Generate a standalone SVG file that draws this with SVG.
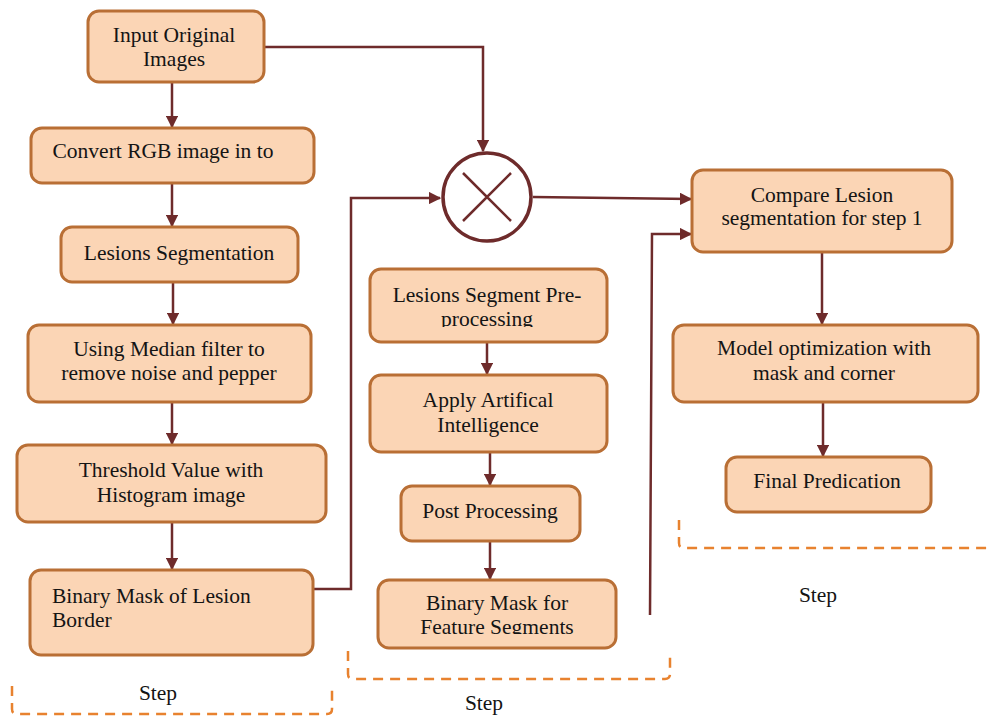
<svg xmlns="http://www.w3.org/2000/svg" width="990" height="718" viewBox="0 0 990 718">
<style>
.box{fill:#fbd5b5;stroke:#b96f35;stroke-width:3}
.lbl{font-family:'Liberation Serif','Times New Roman',serif;font-size:21.5px;fill:#141414;text-anchor:middle}
.lft{text-anchor:start}
.c{fill:none;stroke:#6e2b2b;stroke-width:2.5}
.d{fill:none;stroke:#e8822f;stroke-width:2.5;stroke-dasharray:10 7}
</style>
<defs>
<marker id="ah" viewBox="0 0 10 10" refX="9" refY="5" markerWidth="5" markerHeight="5" markerUnits="strokeWidth" orient="auto">
<path d="M0,0 L10,5 L0,10 z" fill="#6e2b2b"/>
</marker>
<clipPath id="clipA"><rect x="370" y="269" width="238" height="58"/></clipPath>
<clipPath id="clipB"><rect x="378" y="580" width="238" height="54"/></clipPath>
</defs>
<rect width="990" height="718" fill="#ffffff"/>
<g id="connectors">
<path class="c" d="M172,82 V127" marker-end="url(#ah)"/>
<path class="c" d="M172,183 V226" marker-end="url(#ah)"/>
<path class="c" d="M173,282 V324" marker-end="url(#ah)"/>
<path class="c" d="M172,402 V444" marker-end="url(#ah)"/>
<path class="c" d="M172,522 V569" marker-end="url(#ah)"/>
<path class="c" d="M264,47 H483 V151" marker-end="url(#ah)"/>
<path class="c" d="M313,589 H351 V198 H440" marker-end="url(#ah)"/>
<path class="c" d="M533,197 L691,199" marker-end="url(#ah)"/>
<path class="c" d="M650,615 L652,234 H691" marker-end="url(#ah)"/>
<path class="c" d="M487,343 V374" marker-end="url(#ah)"/>
<path class="c" d="M490,452 V485" marker-end="url(#ah)"/>
<path class="c" d="M490,542 V579" marker-end="url(#ah)"/>
<path class="c" d="M822,252 V324" marker-end="url(#ah)"/>
<path class="c" d="M823,402 V456" marker-end="url(#ah)"/>
</g>
<g id="n1"><rect class="box" x="88" y="11" width="176" height="71" rx="11"/><text class="lbl" x="174" y="42">Input Original</text><text class="lbl" x="174" y="66">Images</text></g>
<g id="n2"><rect class="box" x="31" y="128" width="283" height="55" rx="11"/><text class="lbl" x="163" y="158">Convert RGB image in to</text></g>
<g id="n3"><rect class="box" x="61" y="227" width="237" height="55" rx="11"/><text class="lbl" x="179" y="260">Lesions Segmentation</text></g>
<g id="n4"><rect class="box" x="28" y="325" width="283" height="77" rx="11"/><text class="lbl" x="169" y="356">Using Median filter to</text><text class="lbl" x="169" y="380">remove noise and pepper</text></g>
<g id="n5"><rect class="box" x="17" y="445" width="309" height="77" rx="11"/><text class="lbl" x="171" y="477">Threshold Value with</text><text class="lbl" x="171" y="502">Histogram image</text></g>
<g id="n6"><rect class="box" x="30" y="570" width="283" height="85" rx="11"/><text class="lbl lft" x="52" y="603">Binary Mask of Lesion</text><text class="lbl lft" x="52" y="627">Border</text></g>
<g id="mult"><circle cx="487" cy="197" r="44" fill="#ffffff" stroke="#6e2b2b" stroke-width="3.5"/><path d="M463,173 L511,221 M511,173 L463,221" stroke="#6e2b2b" stroke-width="2.5"/></g>
<g id="m1"><rect class="box" x="370" y="269" width="237" height="73" rx="11"/><g clip-path="url(#clipA)"><text class="lbl" x="487" y="302">Lesions Segment Pre-</text><text class="lbl" x="487" y="326">processing</text></g></g>
<g id="m2"><rect class="box" x="370" y="375" width="237" height="77" rx="11"/><text class="lbl" x="488" y="407">Apply Artifical</text><text class="lbl" x="488" y="432">Intelligence</text></g>
<g id="m3"><rect class="box" x="401" y="486" width="179" height="55" rx="11"/><text class="lbl" x="490" y="518">Post Processing</text></g>
<g id="m4"><rect class="box" x="378" y="580" width="238" height="68" rx="11"/><g clip-path="url(#clipB)"><text class="lbl" x="497" y="610">Binary Mask for</text><text class="lbl" x="497" y="634">Feature Segments</text></g></g>
<g id="r1"><rect class="box" x="692" y="170" width="260" height="82" rx="11"/><text class="lbl" x="822" y="202">Compare Lesion</text><text class="lbl" x="822" y="225">segmentation for step 1</text></g>
<g id="r2"><rect class="box" x="673" y="325" width="305" height="77" rx="11"/><text class="lbl" x="824" y="355">Model optimization with</text><text class="lbl" x="824" y="380">mask and corner</text></g>
<g id="r3"><rect class="box" x="726" y="457" width="205" height="55" rx="11"/><text class="lbl" x="827" y="488">Final Predication</text></g>
<g id="steps">
<path class="d" d="M12,686 V709 Q12,714 17,714 H327 Q332,714 332,709 V686"/>
<text class="lbl" x="158" y="700">Step</text>
<path class="d" d="M348,651 V674 Q348,679 353,679 H665 Q670,679 670,674 V651"/>
<text class="lbl" x="484" y="710">Step</text>
<path class="d" d="M679,520 V543 Q679,548 684,548 H990"/>
<text class="lbl" x="818" y="602">Step</text>
</g>
</svg>
